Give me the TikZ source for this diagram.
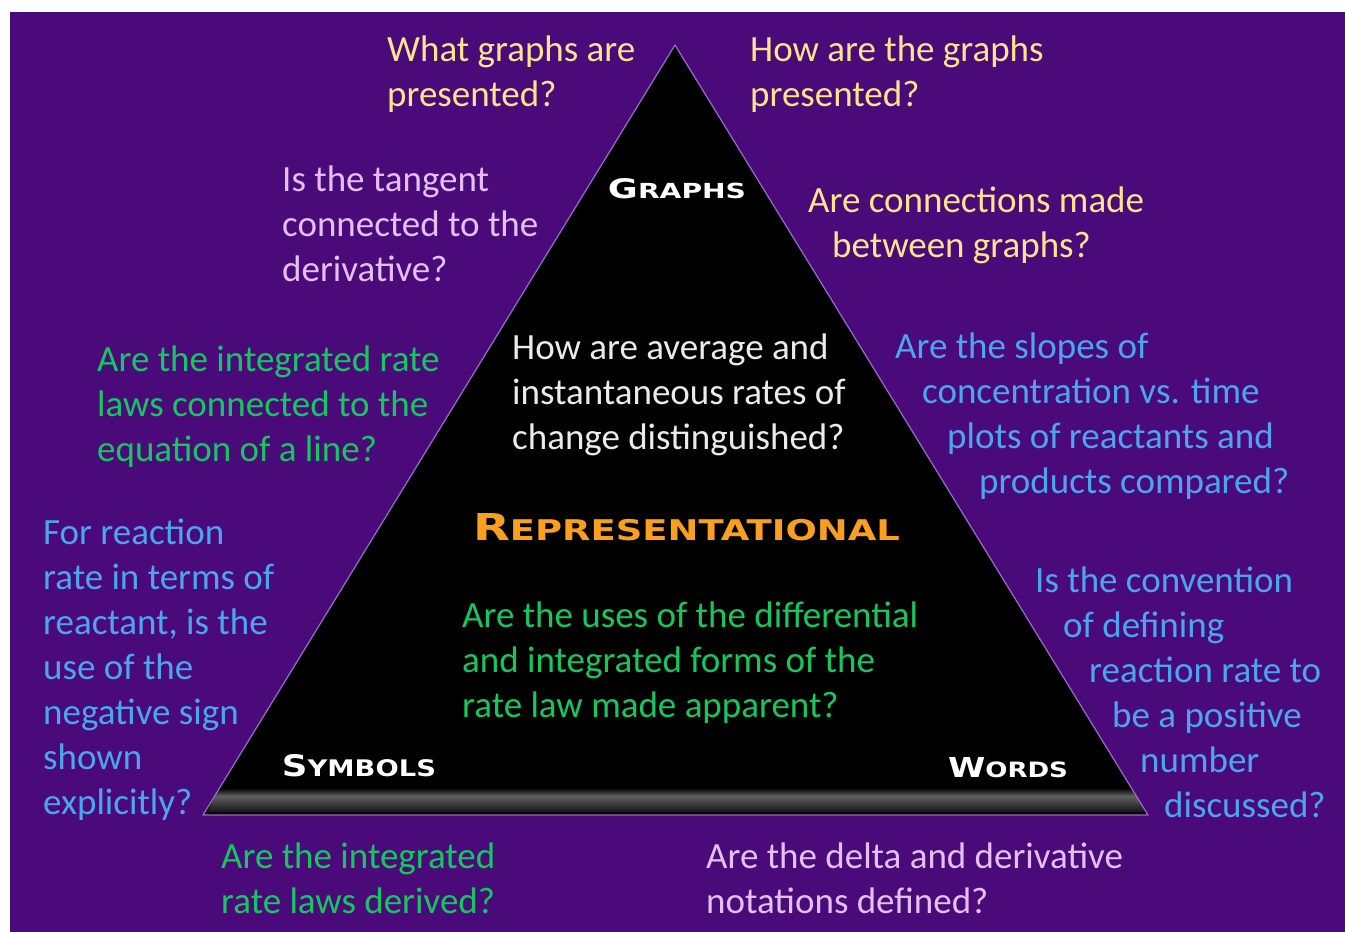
\documentclass[tikz,border=0pt]{standalone}
\usepackage{fontspec}
\usepackage{graphicx}
\setmainfont{Carlito}
\newfontfamily\titlefont{DejaVu Sans}[BoldFont={DejaVu Sans Bold}]
\definecolor{bgpurple}{RGB}{75,10,122}
\definecolor{qyellow}{RGB}{250,228,140}
\definecolor{qlav}{RGB}{226,192,240}
\definecolor{qgreen}{RGB}{20,200,95}
\definecolor{qblue}{RGB}{75,165,240}
\definecolor{qorange}{RGB}{250,160,30}
\definecolor{qwhite}{RGB}{235,235,235}
\definecolor{edgepurple}{RGB}{150,110,200}
\newcommand\qfont{\fontsize{37}{45}\selectfont}
\newcommand\qlines[1]{\vtop{\baselineskip=45pt #1}}
\newcommand\ql[2][0]{\hbox{\kern#1pt #2}}
\newcommand\ttltext[4]{\resizebox{#3pt}{#4pt}{\titlefont\bfseries\fontsize{20}{20}\selectfont #1\fontsize{15.4}{15}\selectfont #2}}
\begin{document}
\begin{tikzpicture}[x=1pt,y=-1pt,
  q/.style={anchor=base west,inner sep=0pt,font=\qfont},
  ttl/.style={anchor=base,inner sep=0pt}]
\useasboundingbox (0,0) rectangle (1345,932);
\fill[white] (0,0) rectangle (1345,932);
\fill[bgpurple] (10,12) rectangle (1345,932);
% triangle
\coordinate (apex) at (675,45);
\coordinate (bl) at (203,815);
\coordinate (br) at (1148,815);
\fill[black] (apex) -- (bl) -- (br) -- cycle;
\shade[top color=black, bottom color=black!62] (220,788) -- (1132,788) -- (1137,796) -- (215,796) -- cycle;
\shade[top color=black!62, bottom color=black!92] (215,796) -- (1137,796) -- (1145,812) -- (207,812) -- cycle;
\draw[edgepurple, line width=1.2pt, line join=round] (apex) -- (bl) -- (br) -- cycle;
% titles
\node[ttl,text=white] (graphs) at (677,198) {\ttltext{G}{RAPHS}{138}{20}};
\node[ttl,text=qorange] (repr) at (686.5,540) {\ttltext{R}{EPRESENTATIONAL}{427}{27}};
\node[ttl,text=white] (symbols) at (359,776) {\ttltext{S}{YMBOLS}{154}{22}};
\node[ttl,text=white] (words) at (1008,777) {\ttltext{W}{ORDS}{120}{20}};
% questions
\node[q,text=qyellow] (q1) at (387,61) {\qlines{\ql{What graphs are}\ql{presented?}}};
\node[q,text=qyellow] (q2) at (750,61) {\qlines{\ql{How are the graphs}\ql{presented?}}};
\node[q,text=qlav] (q3) at (282,191) {\qlines{\ql{Is the tangent}\ql{connected to the}\ql{derivative?}}};
\node[q,text=qyellow] (q4) at (808,212) {\qlines{\ql{Are connections made}\ql[24]{between graphs?}}};
\node[q,text=qgreen] (q5) at (97,371) {\qlines{\ql{Are the integrated rate}\ql{laws connected to the}\ql{equation of a line?}}};
\node[q,text=qwhite] (q6) at (512,359) {\qlines{\ql{How are average and}\ql{instantaneous rates of}\ql{change distinguished?}}};
\node[q,text=qblue] (q7) at (895,358) {\qlines{\ql{Are the slopes of}\ql[27]{concentration vs. time}\ql[52]{plots of reactants and}\ql[84]{products compared?}}};
\node[q,text=qblue] (q8) at (43,544) {\qlines{\ql{For reaction}\ql{rate in terms of}\ql{reactant, is the}\ql{use of the}\ql{negative sign}\ql{shown}\ql{explicitly?}}};
\node[q,text=qgreen] (q9) at (462,627) {\qlines{\ql{Are the uses of the differential}\ql{and integrated forms of the}\ql{rate law made apparent?}}};
\node[q,text=qblue] (q10) at (1035,592) {\qlines{\ql{Is the convention}\ql[28]{of defining}\ql[54]{reaction rate to}\ql[77]{be a positive}\ql[105]{number}\ql[129]{discussed?}}};
\node[q,text=qgreen] (q11) at (221,868) {\qlines{\ql{Are the integrated}\ql{rate laws derived?}}};
\node[q,text=qlav] (q12) at (706,868) {\qlines{\ql{Are the delta and derivative}\ql{notations defined?}}};
\end{tikzpicture}
\end{document}
